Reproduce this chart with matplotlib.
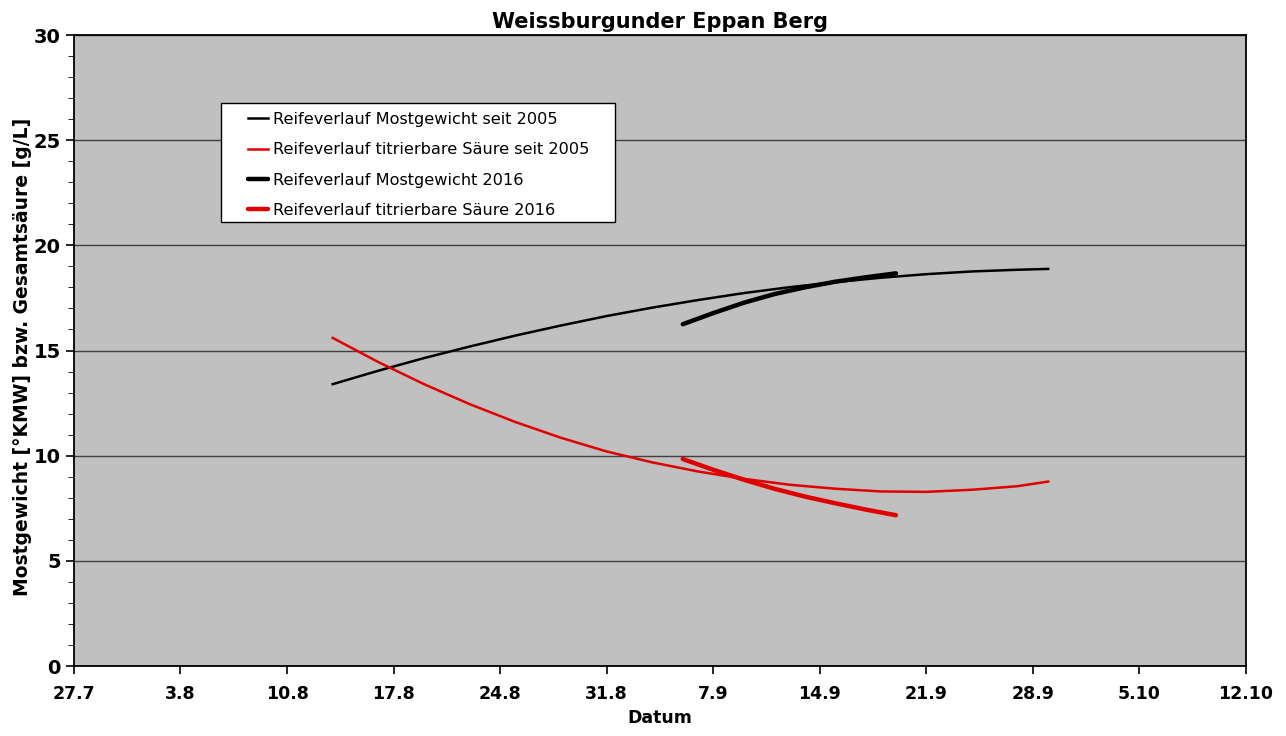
import matplotlib.pyplot as plt
from matplotlib.patches import Rectangle
from matplotlib.ticker import MultipleLocator

# x values are days since 27.7
tick_labels = ["27.7", "3.8", "10.8", "17.8", "24.8", "31.8", "7.9",
               "14.9", "21.9", "28.9", "5.10", "12.10"]

# Reifeverlauf seit 2005
days_all = [17, 20, 23, 26, 29, 32, 35, 38, 41, 44, 47, 50, 53, 56, 59, 62, 64]
most_all = [13.4, 14.04, 14.64, 15.19, 15.71, 16.19, 16.64, 17.04, 17.4,
            17.73, 18.01, 18.25, 18.46, 18.63, 18.76, 18.84, 18.88]
saeure_all = [15.6, 14.45, 13.4, 12.45, 11.6, 10.85, 10.2, 9.68, 9.25,
              8.9, 8.62, 8.43, 8.3, 8.28, 8.38, 8.55, 8.77]

# Reifeverlauf 2016
days_2016 = [40, 42, 44, 46, 48, 50, 52, 54]
most_2016 = [16.25, 16.78, 17.27, 17.68, 18.0, 18.27, 18.48, 18.67]
saeure_2016 = [9.84, 9.33, 8.86, 8.43, 8.06, 7.74, 7.44, 7.17]

fig = plt.figure(figsize=(12.86, 7.36), dpi=100)
ax = fig.add_axes([0.0575, 0.0951, 0.9114, 0.8573])
ax.set_facecolor("#c0c0c0")

ax.plot(days_all, most_all, color="black", lw=1.8, label="Reifeverlauf Mostgewicht seit 2005")
ax.plot(days_all, saeure_all, color="#e00000", lw=1.8, label="Reifeverlauf titrierbare Säure seit 2005")
ax.plot(days_2016, most_2016, color="black", lw=3.2, solid_capstyle="round",
        label="Reifeverlauf Mostgewicht 2016")
ax.plot(days_2016, saeure_2016, color="#e00000", lw=3.2, solid_capstyle="round",
        label="Reifeverlauf titrierbare Säure 2016")

ax.set_xlim(0, 77)
ax.set_ylim(0, 30)
ax.set_xticks(range(0, 78, 7))
ax.set_xticklabels(tick_labels, fontweight="bold", fontsize=12.5)
ax.yaxis.set_major_locator(MultipleLocator(5))
ax.yaxis.set_minor_locator(MultipleLocator(1))
for lab in ax.get_yticklabels():
    lab.set_fontweight("bold")
    lab.set_fontsize(14)
ax.tick_params(axis="both", direction="out", length=6, width=1.2)
ax.tick_params(axis="y", which="minor", length=4)
ax.tick_params(axis="x", pad=8)
ax.grid(axis="y", which="major", color="#404040", lw=1)
ax.set_axisbelow(True)
for s in ax.spines.values():
    s.set_linewidth(1.3)

ax.set_title("Weissburgunder Eppan Berg", fontweight="bold", fontsize=15, pad=5)
ax.set_xlabel("Datum", fontweight="bold", fontsize=12.5, labelpad=4)
ax.set_ylabel("Mostgewicht [°KMW] bzw. Gesamtsäure [g/L]", fontweight="bold", fontsize=13.5)
ax.yaxis.set_label_coords(-0.036, 0.49)

# legend box
ax.add_patch(Rectangle((0.1254, 0.7037), 0.3362, 0.1886, transform=ax.transAxes,
                       facecolor="white", edgecolor="black", lw=1, zorder=4))
leg = ax.legend(loc="upper left", bbox_to_anchor=(0.1485, 0.878), fontsize=11.6,
                frameon=False, handlelength=1.25, handletextpad=0.3,
                borderpad=0, borderaxespad=0, labelspacing=0.95)
leg.set_zorder(5)

fig.savefig("out.png", dpi=100)
